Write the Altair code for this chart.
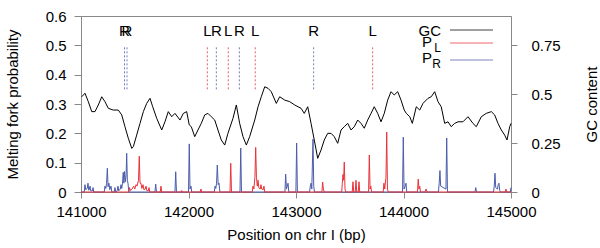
import altair as alt
import pandas as pd

# ---------------- data ----------------
GC_POS = [141007, 141037, 141068, 141100, 141130, 141161, 141193, 141223, 141254, 141300,
          141347, 141379, 141409, 141440, 141472, 141487, 141518, 141549, 141580, 141611,
          141642, 141667, 141704, 141751, 141781, 141812, 141844, 141874, 141921, 141952,
          141983, 142007, 142026, 142058, 142088, 142119, 142151, 142181, 142212, 142244,
          142274, 142305, 142337, 142367, 142414, 142445, 142476, 142507, 142538, 142569,
          142616, 142647, 142677, 142709, 142740, 142770, 142817, 142848, 142895, 142941,
          142988, 143019, 143047, 143077, 143109, 143140, 143170, 143202, 143233, 143263,
          143295, 143326, 143356, 143388, 143419, 143449, 143481, 143512, 143542, 143574,
          143605, 143635, 143667, 143698, 143728, 143760, 143791, 143821, 143853, 143884,
          143914, 143946, 143977, 144007, 144026, 144058, 144082, 144119, 144151, 144181,
          144228, 144258, 144290, 144321, 144351, 144383, 144414, 144444, 144476, 144507,
          144553, 144600, 144646, 144677, 144724, 144770, 144817, 144848, 144879, 144910,
          144941, 144963, 144988, 145000]
GC_VAL = [0.487, 0.505, 0.462, 0.411, 0.411, 0.445, 0.487, 0.462, 0.428, 0.419,
          0.419, 0.394, 0.334, 0.275, 0.223, 0.232, 0.291, 0.351, 0.411, 0.453,
          0.479, 0.436, 0.377, 0.317, 0.359, 0.411, 0.385, 0.402, 0.368, 0.402,
          0.411, 0.343, 0.334, 0.283, 0.317, 0.351, 0.394, 0.402, 0.385, 0.368,
          0.317, 0.266, 0.240, 0.300, 0.377, 0.445, 0.351, 0.283, 0.240, 0.283,
          0.368, 0.436, 0.487, 0.538, 0.530, 0.513, 0.453, 0.487, 0.470, 0.462,
          0.445, 0.436, 0.428, 0.402, 0.436, 0.351, 0.266, 0.172, 0.215, 0.266,
          0.300, 0.300, 0.283, 0.249, 0.317, 0.334, 0.351, 0.317, 0.334, 0.368,
          0.351, 0.326, 0.368, 0.402, 0.436, 0.402, 0.359, 0.402, 0.470, 0.513,
          0.496, 0.513, 0.470, 0.419, 0.402, 0.385, 0.351, 0.436, 0.419, 0.453,
          0.479, 0.487, 0.513, 0.462, 0.436, 0.351, 0.359, 0.334, 0.351, 0.359,
          0.359, 0.385, 0.351, 0.334, 0.385, 0.402, 0.411, 0.394, 0.351, 0.317,
          0.291, 0.266, 0.334, 0.351]

PR_POS = [141000, 141030, 141037, 141044, 141058, 141065, 141072, 141078, 141084, 141090, 141105, 141112, 141119,
          141216, 141223, 141231, 141238, 141245, 141252, 141260, 141268, 141279, 141287,
          141309, 141316, 141323, 141337, 141344, 141351, 141365, 141372, 141379, 141386, 141393, 141399,
          141405, 141413, 141420, 141425, 141431, 141437, 141445,
          141688, 141695, 141702, 141874, 141881, 141888,
          142000, 142007, 142014, 142023, 142030,
          142240, 142247, 142254, 142261, 142268, 142276, 142284, 142292,
          142479, 142486, 142493,
          142897, 142904, 142911, 142919, 142926, 142933,
          142999, 143006, 143013,
          143126, 143133, 143140, 143147, 143158, 143165, 143172,
          143991, 143998, 144005, 144016, 144023, 144030,
          144325, 144332, 144339, 144346, 144395, 144402, 144409,
          144665, 144672, 144679,
          144837, 144844, 144851, 144858, 144874, 144881, 144888, 144895, 144902,
          144993, 145000]
PR_VAL = [0, 0, 0.025, 0.008, 0.012, 0.03, 0.006, 0.01, 0.02, 0.004, 0.004, 0.015, 0,
          0, 0.02, 0.012, 0.03, 0.081, 0.018, 0.03, 0.008, 0.02, 0,
          0, 0.015, 0, 0.004, 0.02, 0.004, 0.01, 0.025, 0.012, 0.03, 0.067, 0.03,
          0.07, 0.035, 0.06, 0.132, 0.04, 0.03, 0,
          0, 0.027, 0, 0, 0.069, 0,
          0, 0.164, 0.01, 0.02, 0,
          0, 0.02, 0.012, 0.03, 0.092, 0.025, 0.03, 0,
          0, 0.15, 0,
          0, 0.061, 0.01, 0.02, 0.03, 0,
          0, 0.167, 0,
          0, 0.02, 0.03, 0.01, 0.18, 0.02, 0,
          0, 0.187, 0.01, 0.02, 0.03, 0,
          0, 0.03, 0.073, 0.02, 0.01, 0.184, 0,
          0, 0.015, 0,
          0, 0.02, 0.064, 0.015, 0.01, 0.025, 0.03, 0.005, 0,
          0, 0.015]

PL_POS = [141000, 141445, 141452, 141460, 141475, 141490, 141500, 141512, 141521, 141535, 141542, 141549,
          141558, 141566, 141577, 141585, 141597, 141605, 141612, 141626, 141633, 141640,
          141737, 141744, 141751, 141930, 141937, 141944,
          142109, 142116, 142123,
          142386, 142393, 142400,
          142593, 142600, 142608, 142618, 142625, 142632, 142640, 142647, 142654, 142667, 142674,
          142681, 142695, 142702, 142709,
          143241, 143248, 143255, 143262,
          143425, 143431, 143437, 143443, 143449, 143456, 143463,
          143523, 143530, 143537, 143551, 143558, 143565, 143579, 143586, 143593,
          143675, 143682, 143689, 143696, 143703,
          143811, 143818, 143825, 143837, 143844, 143851, 143858,
          144130, 144137, 144144, 144151, 144158,
          144200, 144210, 144220, 144946, 144953, 144960, 145000]
PL_VAL = [0, 0, 0.015, 0.005, 0.01, 0.02, 0.01, 0.025, 0.02, 0.04, 0.122, 0.03,
          0.03, 0.012, 0.025, 0.008, 0.01, 0.02, 0.005, 0.004, 0.015, 0,
          0, 0.02, 0, 0, 0.005, 0,
          0, 0.01, 0,
          0, 0.098, 0,
          0, 0.02, 0.01, 0.05, 0.152, 0.05, 0.02, 0.04, 0.015, 0.01, 0.025,
          0.01, 0.008, 0.02, 0,
          0, 0.034, 0.01, 0,
          0, 0.03, 0.06, 0.04, 0.102, 0.01, 0,
          0, 0.035, 0, 0, 0.04, 0, 0, 0.035, 0,
          0, 0.126, 0.01, 0.02, 0,
          0, 0.03, 0.01, 0.05, 0.204, 0.01, 0,
          0, 0.044, 0.01, 0.02, 0,
          0, 0.01, 0, 0, 0.01, 0, 0]

MARK_POS = [141405, 141428, 142175, 142259, 142370, 142473, 142621, 143164, 143713]
MARK_TYPE = ["R", "R", "L", "R", "L", "R", "L", "R", "L"]

X_TICKS = [141000, 142000, 143000, 144000, 145000]
P_TICKS = [0, 0.1, 0.2, 0.3, 0.4, 0.5, 0.6]
GC_TICKS = [0, 0.25, 0.5, 0.75]

LEG_LABEL = ["GC", "P", "P"]
LEG_SUB = ["", "L", "R"]

RED = "#e8333a"
BLUE = "#4b5cab"
LEG_COLOR = ["black", RED, BLUE]
FONT = "Liberation Sans"

gc_df = pd.DataFrame({"pos": GC_POS, "gc": GC_VAL})
pr_df = pd.DataFrame({"pos": PR_POS, "p": PR_VAL})
pl_df = pd.DataFrame({"pos": PL_POS, "p": PL_VAL})
mk_df = pd.DataFrame({"pos": MARK_POS, "type": MARK_TYPE})
leg_df = pd.DataFrame({"label": LEG_LABEL, "sub": LEG_SUB})

xscale = alt.Scale(domain=[141000, 145000], nice=False, zero=False)
pscale = alt.Scale(domain=[0, 0.6], nice=False)
gcscale = alt.Scale(domain=[0, 0.9], nice=False)

x_axis = alt.Axis(values=X_TICKS, format="d", title="Position on chr I (bp)",
                  labelPadding=6, titlePadding=8, labelFlush=False, labelOverlap=False)
x_enc = alt.X("pos:Q", scale=xscale, axis=x_axis)

p_axis = alt.Axis(values=P_TICKS, title="Melting fork probability", orient="left",
                  tickSize=7, labelPadding=8, titlePadding=25, labelOverlap=False, labelFlush=False,
                  tickCount=7, labelExpr="datum.value == 0 ? '0' : format(datum.value, '.1f')")

pr_line = alt.Chart(pr_df).mark_line(color=BLUE, strokeWidth=1).encode(
    x=x_enc,
    y=alt.Y("p:Q", scale=pscale, axis=p_axis),
)
pl_line = alt.Chart(pl_df).mark_line(color=RED, strokeWidth=1).encode(
    x=x_enc,
    y=alt.Y("p:Q", scale=pscale, axis=p_axis),
)

colscale = alt.Scale(domain=["L", "R"], range=[RED, BLUE])
mk_rules = alt.Chart(mk_df).mark_rule(strokeDash=[2, 2], strokeWidth=1, opacity=0.8).encode(
    x=x_enc,
    y=alt.YDatum(0.35, scale=pscale, axis=p_axis),
    y2=alt.Y2Datum(0.5),
    color=alt.Color("type:N", scale=colscale, legend=None),
)
mk_text = alt.Chart(mk_df).mark_text(fontSize=15, font=FONT, color="black", baseline="middle").encode(
    x=x_enc,
    y=alt.YDatum(0.55, scale=pscale, axis=p_axis),
    text="type:N",
)

# legend (drawn by hand because of the subscripts)
leg_layers = []
rows_y = [14, 27, 44]
main_x = [360, 351, 351]
main_base = [19.5, 31, 47]
sub_base = [0, 36, 52]
for i in range(3):
    d = leg_df.iloc[[i]]
    leg_layers.append(alt.Chart(d).mark_rule(strokeWidth=1, color=LEG_COLOR[i], opacity=0.75).encode(
        x=alt.value(369), x2=alt.value(412), y=alt.value(rows_y[i])))
    leg_layers.append(alt.Chart(d).mark_text(fontSize=15, font=FONT, align="right",
                                             baseline="alphabetic", color="black").encode(
        x=alt.value(main_x[i]), y=alt.value(main_base[i]), text="label:N"))
    if LEG_SUB[i]:
        leg_layers.append(alt.Chart(d).mark_text(fontSize=12, font=FONT, align="right",
                                                 baseline="alphabetic", color="black").encode(
            x=alt.value(360), y=alt.value(sub_base[i]), text="sub:N"))

left = alt.layer(pr_line, pl_line, mk_rules, mk_text, *leg_layers)

gc_line = alt.Chart(gc_df).mark_line(color="black", strokeWidth=1).encode(
    x=x_enc,
    y=alt.Y("gc:Q", scale=gcscale,
            axis=alt.Axis(values=GC_TICKS, format=".2~f", title="GC content", orient="right",
                          labelPadding=14, titlePadding=24, titleAngle=270, titleBaseline="top",
                          labelOverlap=False)),
)

chart = alt.layer(left, gc_line).resolve_scale(y="independent").properties(
    width=430, height=176,
    padding={"left": 81, "top": 16, "right": 89, "bottom": 56},
    autosize=alt.AutoSizeParams(type="none"),
    background="white",
).configure_view(stroke="#888888", strokeWidth=1).configure_axis(
    grid=False, domainColor="#888888", tickColor="#888888", tickSize=6,
    labelFont=FONT, titleFont=FONT, labelFontSize=15, titleFontSize=15,
    labelColor="black", titleColor="black", titleFontWeight="normal",
)

chart.save("out.html", embed_options={"renderer": "svg", "actions": False})
